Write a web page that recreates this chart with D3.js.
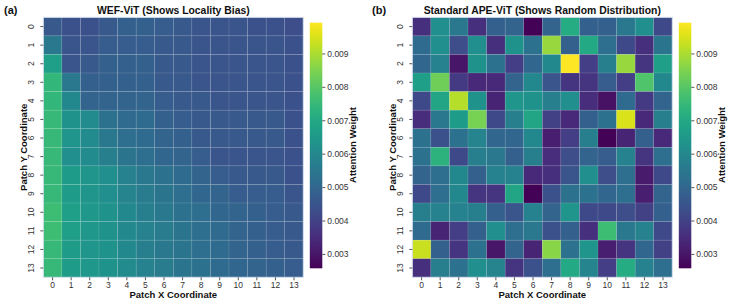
<!DOCTYPE html>
<html>
<head>
<meta charset="utf-8">
<script src="https://cdn.jsdelivr.net/npm/d3@7"></script>
<style>
  body { margin: 0; background: #fff; }
  svg { font-family: "Liberation Sans", Arial, sans-serif; }
  .tick text { fill: #333; font-size: 8.5px; }
  .tick line { stroke: #555; }
  .domain { display: none; }
</style>
</head>
<body>
<svg id="chart" width="731" height="305"></svg>
<script>
// patch coordinates along each axis
var patchIdx = ['0','1','2','3','4','5','6','7','8','9','10','11','12','13']
var cbTicks = [0.003, 0.004, 0.005, 0.006, 0.007, 0.008, 0.009]
var colorMin = 0.00257
var colorMax = 0.00992

// WEF-ViT attention (rows = patch y, cols = patch x)
var wefValues = [
  [0.0046,0.0044,0.0044,0.0046,0.0048,0.0048,0.0047,0.0046,0.0045,0.0045,0.0045,0.0044,0.0044,0.0043],
  [0.0055,0.0045,0.0045,0.0047,0.0047,0.0047,0.0046,0.0046,0.0045,0.0045,0.0045,0.0045,0.0045,0.0044],
  [0.0067,0.0045,0.0046,0.0048,0.0048,0.0048,0.0046,0.0046,0.0045,0.0045,0.0045,0.0045,0.0045,0.0044],
  [0.0074,0.0055,0.0048,0.0048,0.0048,0.0048,0.0046,0.0046,0.0045,0.0045,0.0045,0.0045,0.0045,0.0044],
  [0.0074,0.0060,0.0049,0.0049,0.0049,0.0049,0.0047,0.0046,0.0046,0.0045,0.0045,0.0045,0.0045,0.0044],
  [0.0075,0.0063,0.0061,0.0053,0.0051,0.0051,0.0048,0.0047,0.0046,0.0046,0.0046,0.0046,0.0046,0.0044],
  [0.0075,0.0064,0.0061,0.0055,0.0052,0.0051,0.0049,0.0048,0.0046,0.0046,0.0046,0.0046,0.0046,0.0044],
  [0.0075,0.0062,0.0061,0.0057,0.0054,0.0052,0.0050,0.0049,0.0047,0.0045,0.0045,0.0045,0.0045,0.0044],
  [0.0075,0.0066,0.0064,0.0062,0.0058,0.0055,0.0053,0.0051,0.0049,0.0047,0.0046,0.0046,0.0046,0.0044],
  [0.0075,0.0066,0.0064,0.0062,0.0059,0.0056,0.0054,0.0052,0.0050,0.0049,0.0047,0.0047,0.0047,0.0045],
  [0.0076,0.0067,0.0065,0.0063,0.0060,0.0057,0.0055,0.0053,0.0052,0.0050,0.0049,0.0048,0.0047,0.0046],
  [0.0076,0.0067,0.0065,0.0063,0.0060,0.0058,0.0056,0.0054,0.0052,0.0051,0.0049,0.0048,0.0047,0.0046],
  [0.0075,0.0066,0.0064,0.0063,0.0060,0.0057,0.0055,0.0054,0.0052,0.0051,0.0049,0.0048,0.0047,0.0046],
  [0.0075,0.0066,0.0065,0.0063,0.0061,0.0058,0.0056,0.0054,0.0053,0.0051,0.0050,0.0049,0.0048,0.0047]
]

// standard APE-ViT attention
var apeValues = [
  [0.0036,0.0062,0.0055,0.0036,0.0048,0.0049,0.0026,0.0049,0.0071,0.0048,0.0048,0.0055,0.0062,0.0042],
  [0.0051,0.0062,0.0043,0.0062,0.0036,0.0063,0.0053,0.0088,0.0048,0.0070,0.0052,0.0042,0.0036,0.0054],
  [0.0050,0.0058,0.0030,0.0063,0.0053,0.0039,0.0050,0.0060,0.0099,0.0039,0.0057,0.0088,0.0037,0.0067],
  [0.0067,0.0083,0.0038,0.0034,0.0034,0.0049,0.0060,0.0045,0.0037,0.0037,0.0047,0.0039,0.0079,0.0060],
  [0.0042,0.0069,0.0091,0.0063,0.0033,0.0064,0.0063,0.0057,0.0062,0.0035,0.0029,0.0051,0.0038,0.0049],
  [0.0035,0.0055,0.0066,0.0084,0.0042,0.0057,0.0069,0.0040,0.0034,0.0048,0.0053,0.0095,0.0034,0.0057],
  [0.0053,0.0044,0.0053,0.0059,0.0050,0.0050,0.0060,0.0032,0.0039,0.0057,0.0026,0.0033,0.0048,0.0034],
  [0.0053,0.0073,0.0042,0.0057,0.0055,0.0048,0.0057,0.0035,0.0043,0.0049,0.0047,0.0058,0.0037,0.0052],
  [0.0049,0.0052,0.0060,0.0048,0.0058,0.0058,0.0034,0.0036,0.0045,0.0062,0.0043,0.0052,0.0031,0.0042],
  [0.0042,0.0052,0.0060,0.0037,0.0037,0.0069,0.0026,0.0044,0.0053,0.0053,0.0050,0.0052,0.0032,0.0049],
  [0.0057,0.0058,0.0058,0.0057,0.0048,0.0045,0.0058,0.0049,0.0064,0.0042,0.0042,0.0043,0.0040,0.0048],
  [0.0051,0.0033,0.0039,0.0048,0.0062,0.0052,0.0055,0.0044,0.0048,0.0036,0.0076,0.0055,0.0058,0.0042],
  [0.0093,0.0048,0.0037,0.0053,0.0030,0.0049,0.0033,0.0086,0.0053,0.0064,0.0032,0.0037,0.0050,0.0040],
  [0.0036,0.0057,0.0053,0.0062,0.0059,0.0037,0.0044,0.0052,0.0070,0.0059,0.0039,0.0071,0.0058,0.0052]
]

var svg = d3.select('#chart')
var color = d3.scaleSequential(d3.interpolateViridis).domain([colorMin, colorMax])

// gradient for the colorbars
var grad = svg.append('defs').append('linearGradient')
  .attr('id', 'viridisGrad')
  .attr('x1', 0).attr('y1', 1).attr('x2', 0).attr('y2', 0)
d3.range(0, 1.0001, 0.05).forEach(function(t){
  grad.append('stop').attr('offset', t).attr('stop-color', d3.interpolateViridis(t))
})

function drawPanel(opts){
  var g = svg.append('g')
  var size = 260

  var x = d3.scaleBand().domain(patchIdx).range([opts.left, opts.left + size])
  var y = d3.scaleBand().domain(patchIdx).range([opts.top, opts.top + size])

  var cells = []
  opts.values.forEach(function(row, r){
    row.forEach(function(v, c){ cells.push({r: r, c: c, v: v}) })
  })

  g.selectAll('rect.cell')
    .data(cells)
    .enter()
    .append('rect')
    .attr('class', 'cell')
    .attr('x', function(d){ return x(patchIdx[d.c]) })
    .attr('y', function(d){ return y(patchIdx[d.r]) })
    .attr('width', x.bandwidth())
    .attr('height', y.bandwidth())
    .attr('fill', function(d){ return color(d.v) })
    .attr('stroke', 'rgba(255,255,255,0.15)')
    .attr('stroke-width', 0.6)

  // frame
  g.append('rect')
    .attr('x', opts.left).attr('y', opts.top)
    .attr('width', size).attr('height', size)
    .attr('fill', 'none')
    .attr('stroke', '#d6e0ee')
    .attr('stroke-width', 1)

  var xAxis = g.append('g')
    .attr('transform', 'translate(0,' + (opts.top + size) + ')')
    .call(d3.axisBottom(x).tickSize(3).tickPadding(2))
  xAxis.selectAll('.tick line').attr('stroke', '#666')

  var yAxis = g.append('g')
    .attr('transform', 'translate(' + opts.left + ',0)')
    .call(d3.axisLeft(y).tickSize(3).tickPadding(2))
  yAxis.selectAll('.tick text')
    .attr('transform', 'rotate(-90)')
    .attr('x', 0).attr('y', -9)
    .attr('dy', '0')
    .style('text-anchor', 'middle')

  g.append('text')
    .attr('x', opts.left + size / 2).attr('y', 14)
    .attr('text-anchor', 'middle')
    .style('font-weight', 'bold').style('font-size', '10.4px').style('fill', '#111')
    .text(opts.title)

  g.append('text')
    .attr('x', opts.tagX).attr('y', 14)
    .style('font-weight', 'bold').style('font-size', '11px').style('fill', '#111')
    .text(opts.tag)

  g.append('text')
    .attr('x', opts.left + size / 2).attr('y', 298)
    .attr('text-anchor', 'middle')
    .style('font-weight', 'bold').style('font-size', '9.5px').style('fill', '#111')
    .text('Patch X Coordinate')

  g.append('text')
    .attr('transform', 'translate(' + (opts.left - 16) + ',' + (opts.top + size / 2) + ') rotate(-90)')
    .attr('text-anchor', 'middle')
    .style('font-weight', 'bold').style('font-size', '9.5px').style('fill', '#111')
    .text('Patch Y Coordinate')

  // colorbar
  var cbX = opts.left + size + 6.5
  var cbW = 12.5
  var cbScale = d3.scaleLinear().domain([colorMin, colorMax]).range([268.3, 22.7])
  g.append('rect')
    .attr('x', cbX).attr('y', 22.7)
    .attr('width', cbW).attr('height', 268.3 - 22.7)
    .attr('fill', 'url(#viridisGrad)')

  var cbAxis = g.append('g')
    .attr('transform', 'translate(' + (cbX + cbW) + ',0)')
    .call(d3.axisRight(cbScale).tickValues(cbTicks).tickFormat(d3.format('.3f')).tickSize(3).tickPadding(2))
  cbAxis.selectAll('.tick line').attr('stroke', '#666')

  g.append('text')
    .attr('transform', 'translate(' + (cbX + cbW + 34) + ',145) rotate(-90)')
    .attr('text-anchor', 'middle')
    .style('font-weight', 'bold').style('font-size', '9.5px').style('fill', '#111')
    .text('Attention Weight')
}

drawPanel({left: 43.3, top: 17.3, values: wefValues, title: 'WEF-ViT (Shows Locality Bias)', tag: '(a)', tagX: 4})
drawPanel({left: 412.3, top: 17.3, values: apeValues, title: 'Standard APE-ViT (Shows Random Distribution)', tag: '(b)', tagX: 372})
</script>
</body>
</html>
